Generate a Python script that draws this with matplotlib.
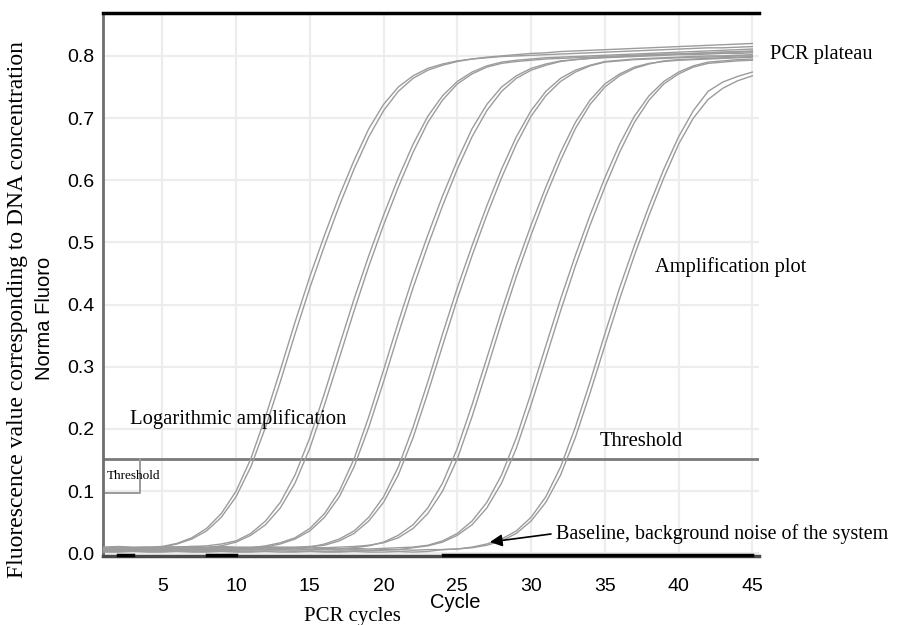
import numpy as np
import matplotlib
matplotlib.use("Agg")
import matplotlib.pyplot as plt

W, H = 903, 625

# cycle numbers and normalised fluorescence, one list per well
cycles = np.arange(1, 46)

g1a = [0.006, 0.005, 0.006, 0.008, 0.011, 0.016, 0.025, 0.040, 0.064, 0.100,
       0.152, 0.220, 0.295, 0.372, 0.445, 0.512, 0.575, 0.632, 0.683, 0.722,
       0.750, 0.768, 0.780, 0.787, 0.792, 0.795, 0.797, 0.799, 0.800, 0.801,
       0.802, 0.803, 0.804, 0.805, 0.806, 0.807, 0.808, 0.809, 0.810, 0.811,
       0.812, 0.813, 0.813, 0.814, 0.815]
g1b = [0.005, 0.006, 0.005, 0.007, 0.010, 0.015, 0.023, 0.036, 0.058, 0.091,
       0.139, 0.203, 0.276, 0.353, 0.427, 0.495, 0.559, 0.618, 0.670, 0.712,
       0.743, 0.764, 0.777, 0.785, 0.791, 0.795, 0.798, 0.800, 0.802, 0.804,
       0.805, 0.807, 0.808, 0.809, 0.810, 0.811, 0.812, 0.813, 0.814, 0.815,
       0.816, 0.817, 0.818, 0.819, 0.820]
g2a = [0.009, 0.010, 0.009, 0.010, 0.009, 0.010, 0.011, 0.012, 0.015, 0.020,
       0.032, 0.052, 0.082, 0.126, 0.186, 0.258, 0.334, 0.409, 0.479, 0.544,
       0.604, 0.658, 0.703, 0.736, 0.759, 0.774, 0.784, 0.790, 0.793, 0.795,
       0.797, 0.798, 0.799, 0.800, 0.801, 0.802, 0.803, 0.804, 0.805, 0.806,
       0.807, 0.808, 0.809, 0.810, 0.811]
g2b = [0.006, 0.005, 0.005, 0.006, 0.005, 0.005, 0.006, 0.009, 0.012, 0.018,
       0.029, 0.046, 0.073, 0.113, 0.169, 0.239, 0.314, 0.390, 0.462, 0.528,
       0.589, 0.645, 0.693, 0.729, 0.755, 0.771, 0.782, 0.788, 0.791, 0.793,
       0.795, 0.796, 0.797, 0.798, 0.799, 0.800, 0.801, 0.802, 0.803, 0.803,
       0.804, 0.805, 0.806, 0.806, 0.807]
g3a = [0.008, 0.008, 0.009, 0.009, 0.007, 0.007, 0.008, 0.008, 0.007, 0.008,
       0.009, 0.012, 0.017, 0.025, 0.040, 0.064, 0.100, 0.152, 0.220, 0.295,
       0.372, 0.445, 0.512, 0.575, 0.632, 0.683, 0.722, 0.750, 0.768, 0.780,
       0.787, 0.792, 0.794, 0.796, 0.797, 0.798, 0.799, 0.800, 0.801, 0.802,
       0.802, 0.803, 0.804, 0.804, 0.805]
g3b = [0.004, 0.004, 0.005, 0.004, 0.004, 0.005, 0.004, 0.004, 0.005, 0.005,
       0.007, 0.010, 0.015, 0.023, 0.036, 0.058, 0.091, 0.139, 0.203, 0.276,
       0.353, 0.427, 0.495, 0.559, 0.618, 0.670, 0.712, 0.743, 0.764, 0.777,
       0.785, 0.791, 0.794, 0.796, 0.798, 0.799, 0.800, 0.801, 0.802, 0.803,
       0.804, 0.805, 0.806, 0.807, 0.808]
g4a = [0.007, 0.007, 0.006, 0.007, 0.008, 0.008, 0.007, 0.008, 0.009, 0.008,
       0.008, 0.007, 0.007, 0.008, 0.010, 0.015, 0.023, 0.036, 0.058, 0.091,
       0.139, 0.203, 0.276, 0.353, 0.427, 0.495, 0.559, 0.618, 0.670, 0.712,
       0.743, 0.764, 0.777, 0.785, 0.791, 0.793, 0.795, 0.796, 0.797, 0.798,
       0.799, 0.800, 0.800, 0.801, 0.802]
g4b = [0.010, 0.011, 0.010, 0.010, 0.011, 0.010, 0.011, 0.010, 0.011, 0.010,
       0.010, 0.010, 0.010, 0.010, 0.011, 0.013, 0.020, 0.032, 0.052, 0.082,
       0.126, 0.186, 0.258, 0.334, 0.409, 0.479, 0.544, 0.604, 0.658, 0.703,
       0.736, 0.759, 0.774, 0.784, 0.790, 0.792, 0.794, 0.795, 0.796, 0.797,
       0.798, 0.798, 0.799, 0.800, 0.800]
g5a = [0.005, 0.005, 0.006, 0.006, 0.005, 0.005, 0.006, 0.006, 0.005, 0.005,
       0.006, 0.006, 0.007, 0.007, 0.006, 0.006, 0.007, 0.009, 0.012, 0.018,
       0.029, 0.046, 0.073, 0.113, 0.169, 0.239, 0.314, 0.390, 0.462, 0.528,
       0.589, 0.645, 0.693, 0.729, 0.755, 0.771, 0.782, 0.788, 0.791, 0.793,
       0.794, 0.795, 0.796, 0.797, 0.798]
g5b = [0.009, 0.009, 0.008, 0.009, 0.009, 0.010, 0.009, 0.009, 0.010, 0.009,
       0.009, 0.010, 0.009, 0.009, 0.010, 0.009, 0.010, 0.011, 0.013, 0.017,
       0.025, 0.040, 0.064, 0.100, 0.152, 0.220, 0.295, 0.372, 0.445, 0.512,
       0.575, 0.632, 0.683, 0.722, 0.750, 0.768, 0.780, 0.787, 0.792, 0.794,
       0.795, 0.796, 0.797, 0.798, 0.799]
g6a = [0.007, 0.008, 0.007, 0.007, 0.008, 0.007, 0.008, 0.008, 0.007, 0.007,
       0.008, 0.007, 0.008, 0.008, 0.007, 0.008, 0.007, 0.008, 0.007, 0.008,
       0.009, 0.010, 0.013, 0.020, 0.032, 0.052, 0.082, 0.126, 0.186, 0.258,
       0.334, 0.409, 0.479, 0.544, 0.604, 0.658, 0.703, 0.736, 0.759, 0.774,
       0.784, 0.790, 0.792, 0.794, 0.795]
g6b = [0.003, 0.003, 0.004, 0.003, 0.003, 0.004, 0.003, 0.003, 0.004, 0.003,
       0.003, 0.004, 0.004, 0.003, 0.004, 0.003, 0.003, 0.004, 0.004, 0.005,
       0.006, 0.009, 0.012, 0.018, 0.029, 0.046, 0.073, 0.113, 0.169, 0.239,
       0.314, 0.390, 0.462, 0.528, 0.589, 0.645, 0.693, 0.729, 0.755, 0.771,
       0.782, 0.788, 0.790, 0.792, 0.793]
g7a = [0.006, 0.006, 0.005, 0.006, 0.006, 0.005, 0.006, 0.005, 0.006, 0.006,
       0.005, 0.006, 0.006, 0.005, 0.006, 0.006, 0.005, 0.006, 0.005, 0.006,
       0.006, 0.005, 0.006, 0.006, 0.007, 0.010, 0.015, 0.023, 0.036, 0.058,
       0.091, 0.139, 0.203, 0.276, 0.353, 0.427, 0.495, 0.559, 0.618, 0.670,
       0.712, 0.743, 0.758, 0.767, 0.774]
g7b = [0.002, 0.002, 0.003, 0.002, 0.002, 0.003, 0.002, 0.002, 0.003, 0.002,
       0.002, 0.003, 0.002, 0.002, 0.003, 0.002, 0.002, 0.003, 0.002, 0.002,
       0.003, 0.002, 0.003, 0.006, 0.007, 0.009, 0.013, 0.020, 0.032, 0.052,
       0.082, 0.126, 0.186, 0.258, 0.334, 0.409, 0.479, 0.544, 0.604, 0.658,
       0.700, 0.730, 0.748, 0.760, 0.768]

wells = [g1a, g1b, g2a, g2b, g3a, g3b, g4a, g4b, g5a, g5b, g6a, g6b, g7a, g7b]

# no-template control, flat on the floor (gaps where it dips below the axis)
nan = np.nan
ntc = [nan, -0.002, -0.002, nan, nan, nan, nan, -0.002, -0.002, -0.002,
       nan, nan, nan, nan, nan, nan, nan, nan, nan, nan,
       nan, nan, nan, -0.002, -0.002, -0.002, -0.002, -0.002, -0.002, -0.002,
       -0.002, -0.002, -0.002, -0.002, -0.002, -0.002, -0.002, -0.002, -0.002, -0.002,
       -0.002, -0.002, -0.002, -0.002, -0.002]

threshold = 0.152
threshold_box_bottom = 0.097
threshold_box_right = 3.5

x_ticks = [5, 10, 15, 20, 25, 30, 35, 40, 45]
y_ticks = [0.0, 0.1, 0.2, 0.3, 0.4, 0.5, 0.6, 0.7, 0.8]

serif = "Liberation Serif"
sans = "Liberation Sans"

fig = plt.figure(figsize=(W / 100, H / 100), dpi=100)
ax = fig.add_axes([103 / W, 1 - 556 / H, (759 - 103) / W, (556 - 13) / H])

ax.set_xlim(0.98, 45.45)
ax.set_ylim(-0.0043, 0.869)

ax.grid(True, color="#ededed", lw=1.6)
ax.set_axisbelow(True)

for w in wells:
    ax.plot(cycles, w, color="#9c9c9c", lw=1.0, zorder=3)
ax.plot(cycles, ntc, color="black", lw=2.5, zorder=4, clip_on=False)

# threshold line and the small legend box
ax.axhline(threshold, color="#7a7a7a", lw=2, zorder=2)
ax.plot([0.98, threshold_box_right, threshold_box_right],
        [threshold_box_bottom, threshold_box_bottom, threshold],
        color="#9a9a9a", lw=1.4, zorder=2)
ax.text(1.25, 0.124, "Threshold", family=serif, fontsize=9.5, va="center")

ax.set_xticks(x_ticks)
ax.set_yticks(y_ticks)
ax.set_yticklabels(["%.1f" % v for v in y_ticks])
ax.tick_params(length=0, labelsize=14)
ax.tick_params(axis="x", pad=16)
ax.tick_params(axis="y", pad=6)
for lab in ax.get_xticklabels() + ax.get_yticklabels():
    lab.set_family(sans)

ax.spines["right"].set_visible(False)
ax.spines["top"].set_color("black")
ax.spines["top"].set_linewidth(2.5)
ax.spines["left"].set_color("#6e6e6e")
ax.spines["left"].set_linewidth(2)
ax.spines["bottom"].set_color("#4a4a4a")
ax.spines["bottom"].set_linewidth(2.5)


def px(x, y):
    return x / W, 1 - y / H


fig.text(*px(455, 603), "Cycle", family=sans, fontsize=14.5, ha="center", va="center")
fig.text(*px(45, 318), "Norma Fluoro", family=sans, fontsize=14.5,
         rotation=90, ha="center", va="center")
fig.text(*px(18, 310), "Fluorescence value corresponding to DNA concentration",
         family=serif, fontsize=17, rotation=90, ha="center", va="center")
fig.text(*px(352, 617), "PCR cycles", family=serif, fontsize=15, ha="center", va="center")

fig.text(*px(770, 54), "PCR plateau", family=serif, fontsize=14.7, va="center")
fig.text(*px(655, 267), "Amplification plot", family=serif, fontsize=14.8, va="center")
fig.text(*px(130, 419), "Logarithmic amplification", family=serif, fontsize=14.9, va="center")
fig.text(*px(600, 442), "Threshold", family=serif, fontsize=14.9, va="center")
fig.text(*px(556, 534), "Baseline, background noise of the system",
         family=serif, fontsize=14.4, va="center")
ax.annotate("", xy=(490, H - 542), xytext=(551, H - 534),
            xycoords="figure pixels", textcoords="figure pixels",
            arrowprops=dict(arrowstyle="-|>", color="black", lw=1.2,
                            mutation_scale=18, shrinkA=0, shrinkB=0))

fig.savefig("out.png", dpi=100)
